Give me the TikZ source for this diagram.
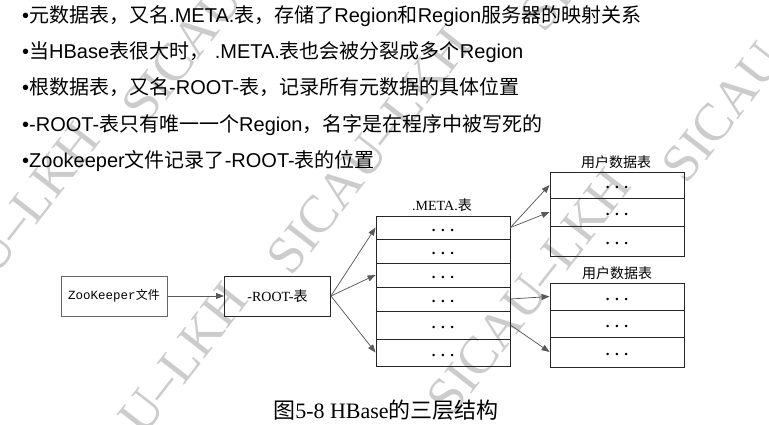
\documentclass[tikz,border=0pt]{standalone}
\usepackage{fontspec}
\setmainfont{Liberation Serif}
\newfontfamily\sansfam{Liberation Sans}
\newfontfamily\cjkfam{Noto Sans CJK SC}
\newfontfamily\monofam{Liberation Mono}
\usetikzlibrary{arrows.meta}
\newcommand\hz[1]{{\cjkfam #1}}
\newcommand\trio{\bfseries .\hspace{5.5pt}.\hspace{5.5pt}.}
\begin{document}
\begin{tikzpicture}[x=1pt,y=-1pt,
  bul/.style={anchor=base west, inner sep=0pt, text=black,
    font=\sansfam\fontsize{20}{24}\selectfont},
  wm/.style={text=black!20, inner sep=0pt, rotate=52,
    font=\fontsize{53}{60}\selectfont},
  plain/.style={draw=black!60, line width=0.9pt, inner sep=0pt,
    minimum width=106pt, minimum height=40pt},
  row/.style={draw=black!85, line width=0.9pt, inner sep=0pt,
    minimum width=134pt, text height=7pt, text depth=0pt,
    font=\fontsize{15}{16}\selectfont},
  lab/.style={inner sep=0pt, font=\fontsize{14}{16}\selectfont},
  conn/.style={draw=black!65, line width=0.75pt,
    -{Triangle[length=8pt,width=6pt]}}]
\useasboundingbox (0,0) rectangle (769,425);

% faint diagonal watermark
\begin{scope}
\clip (0,0) rectangle (769,425);
\node[wm] (wa) at (-2,246) {SICAU–LKH};
\node[wm] (wb) at (224,-1) {SICAU–LKH};
\node[wm] (wc) at (369,151) {SICAU–LKH};
\node[wm] (wd) at (146,406) {SICAU–LKH};
\node[wm] (we) at (764,59) {SICAU–LKH};
\node[wm] (wf) at (529,292) {SICAU–LKH};
\node[wm] (wg) at (622,-92) {SICAU–LKH};
\end{scope}

% bullet list
\node[bul] (l1) at (22,22.5) {•\hz{元数据表，又名}.META.\hz{表，存储了}Region\hz{和}Region\hz{服务器的映射关系}};
\node[bul] (l2) at (22,58.5) {•\hz{当}HBase\hz{表很大时，} .META.\hz{表也会被分裂成多个}Region};
\node[bul] (l3) at (22,95) {•\hz{根数据表，又名}-ROOT-\hz{表，记录所有元数据的具体位置}};
\node[bul] (l4) at (22,131.5) {•-ROOT-\hz{表只有唯一一个}Region\hz{，名字是在程序中被写死的}};
\node[bul] (l5) at (22,168) {•Zookeeper\hz{文件记录了}-ROOT-\hz{表的位置}};

% three-level lookup structure
\node[plain] (zk) at (114,296) {\monofam\fontsize{12.5}{14}\selectfont ZooKeeper\hz{\fontsize{12}{14}\selectfont 文件}};
\node[plain, draw=black!85] (root) at (277.5,296) {\fontsize{14}{16}\selectfont -ROOT-\hz{表}};

\node[lab] (mlab) at (442,205) {.META.\hz{表}};
\node[row, minimum height=23pt] (m1) at (443,227.5) {\trio};
\node[row, minimum height=24pt] (m2) at (443,251) {\trio};
\node[row, minimum height=24pt] (m3) at (443,275) {\trio};
\node[row, minimum height=24pt] (m4) at (443,299) {\trio};
\node[row, minimum height=28pt] (m5) at (443,325) {\trio};
\node[row, minimum height=27pt] (m6) at (443,352.5) {\trio};

\node[lab] (ulab) at (616,162) {\hz{用户数据表}};
\node[row, minimum height=26pt] (u1) at (617,185) {\trio};
\node[row, minimum height=28pt] (u2) at (617,212) {\trio};
\node[row, minimum height=30pt] (u3) at (617,241) {\trio};

\node[lab] (vlab) at (617,273) {\hz{用户数据表}};
\node[row, minimum height=27pt] (v1) at (617,296.5) {\trio};
\node[row, minimum height=27pt] (v2) at (617,323.5) {\trio};
\node[row, minimum height=30pt] (v3) at (617,352) {\trio};

\draw[conn] (zk.east) -- (root.west);
\draw[conn] (root.east) -- (m1.west);
\draw[conn] (root.east) -- (m3.west);
\draw[conn] (root.east) -- (m6.west);
\draw[conn] (m1.east) -- (u1.west);
\draw[conn] (m1.east) -- (u2.west);
\draw[conn] (m4.east) -- (v1.west);
\draw[conn] (m5.east) -- (v3.west);

\node[inner sep=0pt, font=\fontsize{22}{26}\selectfont] (cap) at (386,410) {\hz{图}5-8 HBase\hz{的三层结构}};
\end{tikzpicture}
\end{document}
